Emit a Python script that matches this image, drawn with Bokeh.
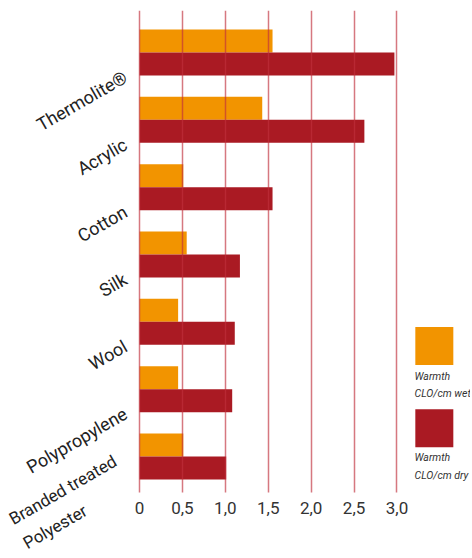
from bokeh.plotting import figure
from bokeh.models import Range1d, FixedTicker
from bokeh.core.properties import value
from bokeh.embed import file_html
from bokeh.resources import INLINE
import math

categories = ["Thermolite®", "Acrylic", "Cotton", "Silk", "Wool", "Polypropylene", "Branded treated\nPolyester"]
wet = [1.55, 1.43, 0.51, 0.55, 0.45, 0.45, 0.51]
dry = [2.97, 2.62, 1.55, 1.17, 1.11, 1.08, 1.01]
x_ticks = [0, 0.5, 1.0, 1.5, 2.0, 2.5, 3.0]
x_tick_labels = ["0", "0,5", "1,0", "1,5", "2,0", "2,5", "3,0"]
legend_labels = ["Warmth\nCLO/cm wet", "Warmth\nCLO/cm dry"]

ORANGE = "#f29400"
RED = "#aa1a23"
GRID = "#c0303c"
FONT = "Roboto"

n = len(categories)
ypos = [n - 1 - i for i in range(n)]
y_top = 6.624
y_axis_at = -0.535

# frame spans the label area so rotated category labels are not clipped
p = figure(width=470, height=558, output_backend="svg", toolbar_location=None,
           x_range=Range1d(-1.6195, 3.8565), y_range=Range1d(-1.515, y_top))
p.min_border_left = 0
p.min_border_right = 0
p.min_border_top = 10
p.min_border_bottom = 0
p.outline_line_color = None
p.background_fill_color = "white"
p.border_fill_color = "white"

off = 0.171
h = 0.342
p.hbar(y=[y + off for y in ypos], left=0, right=wet, height=h, color=ORANGE, line_color=None)
p.hbar(y=[y - off for y in ypos], left=0, right=dry, height=h, color=RED, line_color=None)

# x axis placed at bottom of bar area; its ticks drawn upward act as grid lines
p.xaxis.fixed_location = y_axis_at
p.xaxis.ticker = FixedTicker(ticks=x_ticks)
p.xaxis.major_label_overrides = {t: l for t, l in zip(x_ticks, x_tick_labels)}
p.xaxis.axis_line_color = None
p.xaxis.major_tick_in = 482
p.xaxis.major_tick_out = 0
p.xaxis.major_tick_line_color = GRID
p.xaxis.major_tick_line_alpha = 0.65
p.xaxis.major_tick_line_width = 1.5
p.xaxis.minor_tick_line_color = None
p.xaxis.major_label_standoff = 9
p.xaxis.major_label_text_font = FONT
p.xaxis.major_label_text_font_size = "17px"
p.xaxis.major_label_text_color = "#333333"

p.xgrid.grid_line_color = None
p.ygrid.grid_line_color = None

# category labels (rotated)
p.yaxis.visible = False
angle = math.radians(30)
single_t = [c for c in categories if "\n" not in c]
single_y = [y for c, y in zip(categories, ypos) if "\n" not in c]
multi_t = [c for c in categories if "\n" in c]
multi_y = [y for c, y in zip(categories, ypos) if "\n" in c]
p.text(x=[0] * len(single_t), y=single_y, text=single_t, x_offset=-14, y_offset=23,
       angle=angle, text_align="right", text_baseline="alphabetic",
       text_font=value(FONT), text_font_size="18px", text_color="#222222")
p.text(x=[0] * len(multi_t), y=multi_y, text=multi_t, x_offset=-134, y_offset=55,
       angle=angle, text_align="left", text_baseline="top", text_line_height=1.4,
       text_font=value(FONT), text_font_size="17px", text_color="#222222")

# legend (manual)
p.rect(x=[3.435, 3.435], y=[1.641, 0.419], width=38, height=38,
       width_units="screen", height_units="screen", color=[ORANGE, RED], line_color=None)
p.text(x=[3.204, 3.204], y=[1.292, 0.081], text=legend_labels,
       text_font=value(FONT), text_font_size="10.5px", text_font_style="italic",
       text_color="#333333", text_baseline="top", text_align="left", text_line_height=1.35)

open("out.html", "w").write(file_html(p, INLINE))
